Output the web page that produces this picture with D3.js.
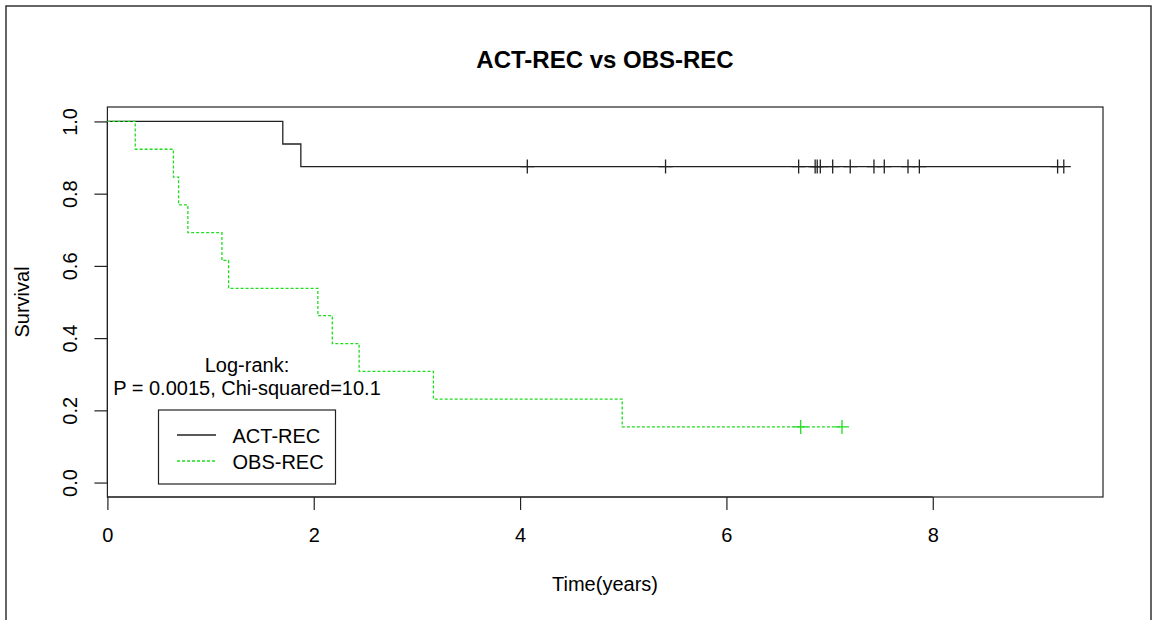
<!DOCTYPE html>
<html>
<head>
<meta charset="utf-8">
<script src="https://cdn.jsdelivr.net/npm/d3@7"></script>
<style>
  html, body { margin: 0; padding: 0; background: #fff; }
  svg { display: block; font-family: "Liberation Sans", Arial, sans-serif; }
</style>
</head>
<body>
<div id="chart"></div>
<script>
// Kaplan-Meier estimates
const seriesNames = ['ACT-REC', 'OBS-REC'];
const actEventTimes = [1.70, 1.875];
const actSurvival = [0.9375, 0.875];
const actCensorTimes = [4.07, 5.41, 6.70, 6.86, 6.88, 6.91, 7.03, 7.20, 7.43, 7.53, 7.76, 7.87, 9.21, 9.27];
const obsEventTimes = [0.27, 0.64, 0.69, 0.78, 1.11, 1.175, 2.04, 2.18, 2.44, 3.16, 4.99];
const obsSurvival = [0.923, 0.846, 0.769, 0.692, 0.615, 0.538, 0.462, 0.385, 0.308, 0.231, 0.154];
const obsCensorTimes = [6.72, 7.12];
const xTicks = [0, 2, 4, 6, 8];
const yTicks = [0, 0.2, 0.4, 0.6, 0.8, 1.0];
const annotation = ['Log-rank:', 'P = 0.0015, Chi-squared=10.1'];

const width = 1155;
const height = 620;
const box = { left: 107.4, right: 1103, top: 107, bottom: 497 };
const green = '#1fdd1f';
const ink = '#222';

const svg = d3.select('#chart').append('svg')
  .attr('width', width)
  .attr('height', height);

// page frame
svg.append('rect')
  .attr('x', 6).attr('y', 6)
  .attr('width', 1145).attr('height', 640)
  .attr('fill', 'none').attr('stroke', '#333').attr('stroke-width', 1.5);

const x = d3.scaleLinear().domain([0, 9.65]).range([box.left, box.right]);
const y = d3.scaleLinear().domain([-0.04, 1.04]).range([box.bottom, box.top]);

// plot box
svg.append('rect')
  .attr('x', box.left).attr('y', box.top)
  .attr('width', box.right - box.left).attr('height', box.bottom - box.top)
  .attr('fill', 'none').attr('stroke', ink).attr('stroke-width', 1.2);

// axes
let xAxis = svg.append('g')
  .attr('transform', `translate(0, ${box.bottom})`)
  .call(d3.axisBottom(x).tickValues(xTicks).tickSize(13).tickFormat(d3.format('d')));
xAxis.select('.domain').remove();
xAxis.selectAll('line').attr('stroke', ink).attr('stroke-width', 1.2);
xAxis.selectAll('text')
  .attr('y', 45).attr('dy', null)
  .attr('fill', '#000').style('font-size', '20px');
xAxis.append('line')
  .attr('x1', x(xTicks[0])).attr('x2', x(xTicks[xTicks.length - 1]))
  .attr('stroke', ink).attr('stroke-width', 1.2);

let yAxis = svg.append('g')
  .attr('transform', `translate(${box.left}, 0)`)
  .call(d3.axisLeft(y).tickValues(yTicks).tickSize(13).tickFormat(d3.format('.1f')));
yAxis.select('.domain').remove();
yAxis.selectAll('line').attr('stroke', ink).attr('stroke-width', 1.2);
yAxis.selectAll('text')
  .attr('x', null).attr('dy', null)
  .attr('text-anchor', 'middle')
  .attr('transform', 'translate(-30, 0) rotate(-90)')
  .attr('fill', '#000').style('font-size', '20px');
yAxis.append('line')
  .attr('y1', y(yTicks[0])).attr('y2', y(yTicks[yTicks.length - 1]))
  .attr('stroke', ink).attr('stroke-width', 1.2);

// titles
svg.append('text')
  .attr('x', 605).attr('y', 68)
  .attr('text-anchor', 'middle')
  .style('font-size', '24px').style('font-weight', 'bold')
  .text(seriesNames[0] + ' vs ' + seriesNames[1]);

svg.append('text')
  .attr('x', 605).attr('y', 591)
  .attr('text-anchor', 'middle')
  .style('font-size', '20px')
  .text('Time(years)');

svg.append('text')
  .attr('transform', 'translate(29, 302) rotate(-90)')
  .attr('text-anchor', 'middle')
  .style('font-size', '20px')
  .text('Survival');

// survival curves
function stepPoints (times, surv, censors) {
  let pts = [[0, 1]];
  times.forEach((t, i) => pts.push([t, surv[i]]));
  let last = d3.max(times.concat(censors));
  pts.push([last, surv[surv.length - 1]]);
  return pts;
}

let stepLine = d3.line()
  .x(d => x(d[0]))
  .y(d => y(d[1]))
  .curve(d3.curveStepAfter);

const curves = [
  { times: actEventTimes, surv: actSurvival, censors: actCensorTimes, color: ink, dash: null },
  { times: obsEventTimes, surv: obsSurvival, censors: obsCensorTimes, color: green, dash: '3,2' }
];

curves.forEach(c => {
  svg.append('path')
    .attr('d', stepLine(stepPoints(c.times, c.surv, c.censors)))
    .attr('fill', 'none')
    .attr('stroke', c.color)
    .attr('stroke-width', 1.3)
    .attr('stroke-dasharray', c.dash);

  let level = c.surv[c.surv.length - 1];
  let marks = svg.append('g');
  marks.selectAll('path')
    .data(c.censors)
    .enter().append('path')
    .attr('d', t => `M${x(t) - 7},${y(level)}h14M${x(t)},${y(level) - 7}v14`)
    .attr('stroke', c.color)
    .attr('stroke-width', 1.3)
    .attr('fill', 'none');
});

// log-rank annotation
svg.append('text')
  .attr('x', 247).attr('y', 372)
  .attr('text-anchor', 'middle')
  .style('font-size', '20px')
  .text(annotation[0]);
svg.append('text')
  .attr('x', 247).attr('y', 395)
  .attr('text-anchor', 'middle')
  .style('font-size', '20px')
  .text(annotation[1]);

// legend
let legend = svg.append('g');
legend.append('rect')
  .attr('x', 158.5).attr('y', 410)
  .attr('width', 177).attr('height', 74)
  .attr('fill', '#fff').attr('stroke', ink).attr('stroke-width', 1.2);

curves.forEach((c, i) => {
  let ly = 435 + i * 26;
  legend.append('line')
    .attr('x1', 177).attr('x2', 216)
    .attr('y1', ly).attr('y2', ly)
    .attr('stroke', c.color)
    .attr('stroke-width', 1.3)
    .attr('stroke-dasharray', c.dash);
  legend.append('text')
    .attr('x', 232.5).attr('y', ly + 7.5)
    .style('font-size', '20px')
    .text(seriesNames[i]);
});
</script>
</body>
</html>
